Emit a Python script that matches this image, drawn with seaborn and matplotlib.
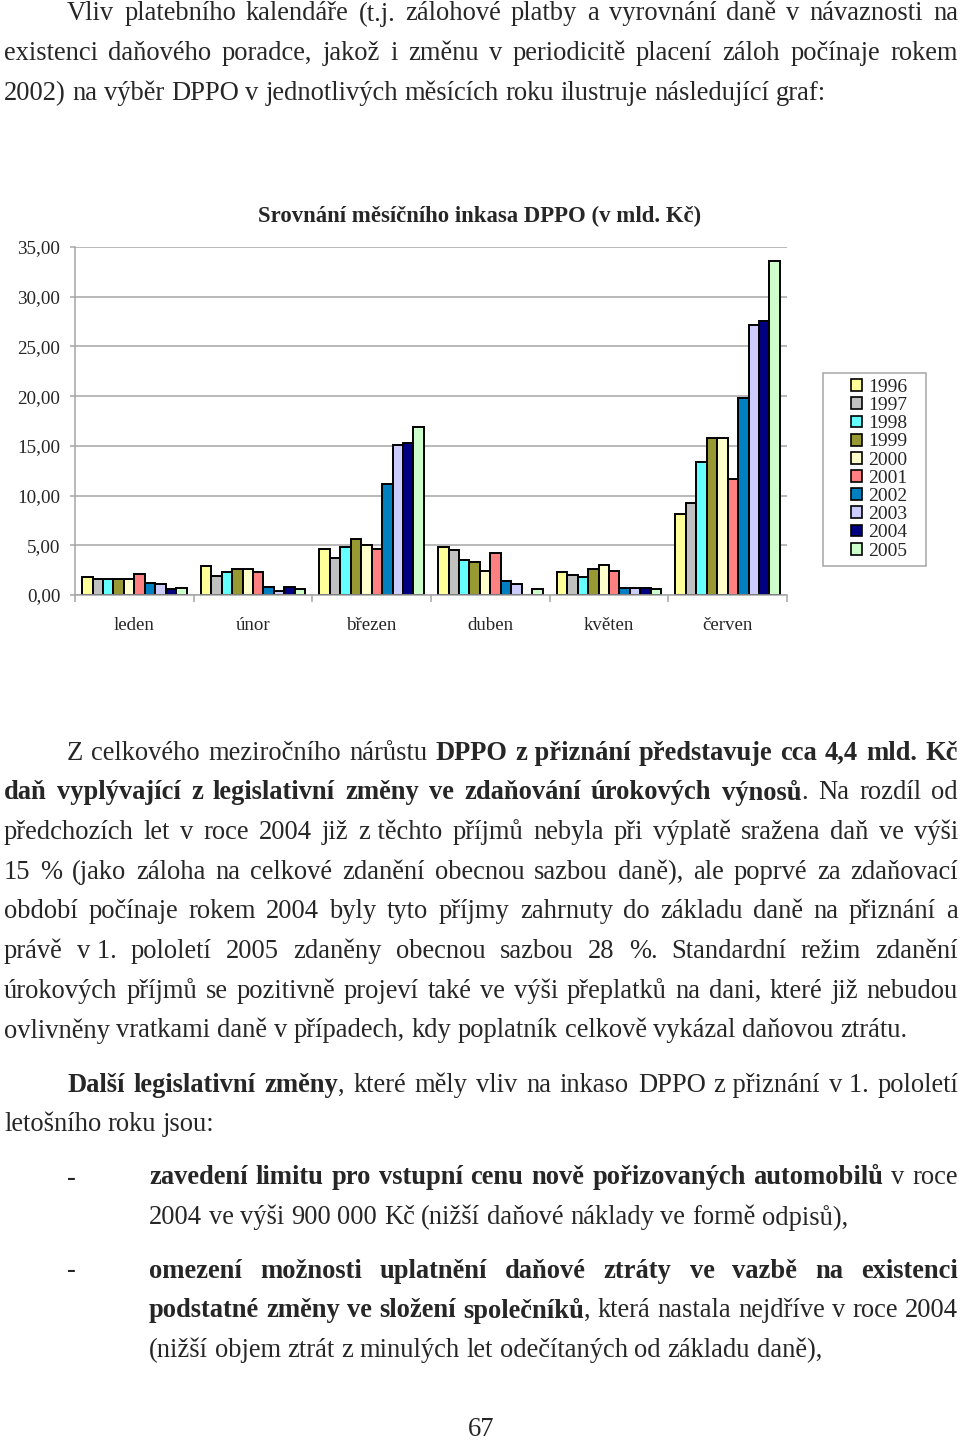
import pandas as pd
import matplotlib
matplotlib.use("Agg")
import matplotlib.pyplot as plt
import matplotlib.transforms as mtransforms
from matplotlib.patches import Patch, Rectangle
from matplotlib.ticker import FuncFormatter, FixedLocator
import seaborn as sns

# chart data (mld. Kč)
months = ["leden", "únor", "březen", "duben", "květen", "červen"]
years = ["1996", "1997", "1998", "1999", "2000", "2001", "2002", "2003", "2004", "2005"]
v1996 = [1.83, 2.87, 4.67, 4.83, 2.27, 8.17]
v1997 = [1.60, 1.93, 3.73, 4.53, 1.97, 9.23]
v1998 = [1.60, 2.27, 4.87, 3.47, 1.80, 13.33]
v1999 = [1.60, 2.57, 5.60, 3.33, 2.57, 15.83]
v2000 = [1.60, 2.57, 5.00, 2.40, 3.03, 15.83]
v2001 = [2.13, 2.27, 4.67, 4.23, 2.43, 11.67]
v2002 = [1.23, 0.77, 11.17, 1.37, 0.73, 19.83]
v2003 = [1.07, 0.40, 15.13, 1.07, 0.73, 27.17]
v2004 = [0.60, 0.77, 15.30, 0.00, 0.73, 27.57]
v2005 = [0.73, 0.60, 16.93, 0.60, 0.60, 33.57]
series = [v1996, v1997, v1998, v1999, v2000, v2001, v2002, v2003, v2004, v2005]
colors = ["#FFFF99", "#C0C0C0", "#66FFFF", "#999933", "#FFFFCC",
          "#FF8080", "#0080C0", "#CCCCFF", "#000080", "#CCFFCC"]

chart_title = "Srovnání měsíčního inkasa DPPO (v mld. Kč)"

# page text, ** toggles bold
para1 = [
    "Vliv platebního kalendáře (t.j. zálohové platby a vyrovnání daně v návaznosti na",
    "existenci daňového poradce, jakož i změnu v periodicitě placení záloh počínaje rokem",
    "2002) na výběr DPPO v jednotlivých měsících roku ilustruje následující graf:",
]
para2 = [
    "Z celkového meziročního nárůstu **DPPO z\u00a0přiznání představuje cca 4,4 mld. Kč**",
    "**daň vyplývající z legislativní změny ve zdaňování úrokových výnosů**. Na rozdíl od",
    "předchozích let v roce 2004 již z\u00a0těchto příjmů nebyla při výplatě sražena daň ve výši",
    "15 % (jako záloha na celkové zdanění obecnou sazbou daně), ale poprvé za zdaňovací",
    "období počínaje rokem 2004 byly tyto příjmy zahrnuty do základu daně na přiznání a",
    "právě v\u00a01. pololetí 2005 zdaněny obecnou sazbou 28 %. Standardní režim zdanění",
    "úrokových příjmů se pozitivně projeví také ve výši přeplatků na dani, které již nebudou",
    "ovlivněny vratkami daně v případech, kdy poplatník celkově vykázal daňovou ztrátu.",
]
para3 = [
    "**Další legislativní změny**, které měly vliv na inkaso DPPO z\u00a0přiznání v\u00a01. pololetí",
    "letošního roku jsou:",
]
item1 = [
    "**zavedení limitu pro vstupní cenu nově pořizovaných automobilů** v roce",
    "2004 ve výši 900 000 Kč (nižší daňové náklady ve formě odpisů),",
]
item2 = [
    "**omezení možnosti uplatnění daňové ztráty ve vazbě na existenci**",
    "**podstatné změny ve složení společníků**, která nastala nejdříve v roce 2004",
    "(nižší objem ztrát z minulých let odečítaných od základu daně),",
]

sns.set_theme(style="white")
plt.rcParams["font.family"] = ["Liberation Serif", "DejaVu Serif"]

W, H = 960, 1440
fig = plt.figure(figsize=(9.6, 14.4), dpi=100)
px = mtransforms.IdentityTransform()
renderer = fig.canvas.get_renderer()
FS = 19.1


def parse(line):
    words = []
    bold = False
    for raw in line.split(" "):
        pieces = []
        for i, p in enumerate(raw.split("**")):
            if i > 0:
                bold = not bold
            if p:
                pieces.append((p, bold))
        words.append(pieces)
    return words


def text_width(s, size, weight="normal"):
    t = fig.text(0, 0, s, fontsize=size, fontweight=weight, transform=px)
    w = t.get_window_extent(renderer).width
    t.remove()
    return w


def draw_line(line, x0, x1, y, justify=True, size=FS):
    words = parse(line)
    arts = []
    widths = []
    for pieces in words:
        row = []
        wsum = 0
        for txt, b in pieces:
            t = fig.text(0, H - y, txt, transform=px, fontsize=size,
                         fontweight="bold" if b else "normal", va="center", ha="left")
            w = t.get_window_extent(renderer).width
            row.append((t, w))
            wsum += w
        arts.append(row)
        widths.append(wsum)
    if justify and len(words) > 1:
        gap = (x1 - x0 - sum(widths)) / (len(words) - 1)
    else:
        gap = text_width("a a", size) - text_width("aa", size)
    x = x0
    for row, wsum in zip(arts, widths):
        xx = x
        for t, w in row:
            t.set_x(xx)
            xx += w
        x += wsum + gap


def draw_par(lines, x_first, x_rest, y0, step=39.7, right=958):
    for i, line in enumerate(lines):
        last = i == len(lines) - 1
        draw_line(line, x_first if i == 0 else x_rest, right, y0 + i * step, justify=not last)


draw_par(para1, 67, 4, 14)
draw_par(para2, 67, 4, 753)
draw_par(para3, 67, 4, 1085)
fig.text(67, H - 1178, "-", transform=px, fontsize=FS, va="center")
draw_par(item1, 149, 149, 1178)
fig.text(67, H - 1271, "-", transform=px, fontsize=FS, va="center")
draw_par(item2, 149, 149, 1271)
fig.text(481, H - 1430, "67", transform=px, fontsize=FS, va="center", ha="center")

# chart
rows = []
for yr, vals in zip(years, series):
    for m, v in zip(months, vals):
        rows.append({"mesic": m, "rok": yr, "mld": v})
df = pd.DataFrame(rows)

ax = fig.add_axes([75 / W, 1 - 595 / H, (787 - 75) / W, (595 - 247) / H])
sns.barplot(data=df, x="mesic", y="mld", hue="rok", order=months, hue_order=years,
            palette=dict(zip(years, colors)), width=0.88, edgecolor="black",
            linewidth=1.4, saturation=1, ax=ax, legend=False)
ax.set_ylim(0, 35)
ax.set_xlim(-0.5, 5.5)
ax.set_yticks(range(0, 36, 5))
ax.yaxis.set_major_formatter(FuncFormatter(lambda v, p: f"{v:.2f}".replace(".", ",")))
ax.yaxis.grid(True, color="#a6a6a6", linewidth=1.1)
ax.set_axisbelow(True)
ax.set_xlabel("")
ax.set_ylabel("")
for s in ["top", "right"]:
    ax.spines[s].set_visible(False)
for s in ["left", "bottom"]:
    ax.spines[s].set_color("#a6a6a6")
    ax.spines[s].set_linewidth(1.1)
ax.tick_params(axis="y", length=3.6, color="#a6a6a6", width=1.1, pad=7, labelsize=13.8, left=True)
ax.tick_params(axis="x", which="major", length=0, pad=15.5, labelsize=13.6)
ax.xaxis.set_minor_locator(FixedLocator([i - 0.5 for i in range(7)]))
ax.tick_params(axis="x", which="minor", length=5, color="#a6a6a6", width=1.1, bottom=True)

fig.text(480, H - 216, chart_title, transform=px, fontsize=16.4, fontweight="bold",
         ha="center", va="center")

# legend with a separate frame
fig.add_artist(Rectangle((823, H - 566), 926 - 823, 566 - 373, transform=px,
                         facecolor="white", edgecolor="#a6a6a6", linewidth=1.1, zorder=1))
handles = [Patch(facecolor=c, edgecolor="black", linewidth=1.2, label=y) for c, y in zip(colors, years)]
leg = fig.legend(handles=handles, loc="upper left", bbox_to_anchor=(851 / W, 1 - 379 / H),
                 frameon=False, fontsize=14, handlelength=0.56, handleheight=0.56,
                 handletextpad=0.3, labelspacing=0.06, borderpad=0, borderaxespad=0)
leg.set_zorder(2)

fig.savefig("out.png", dpi=100)
